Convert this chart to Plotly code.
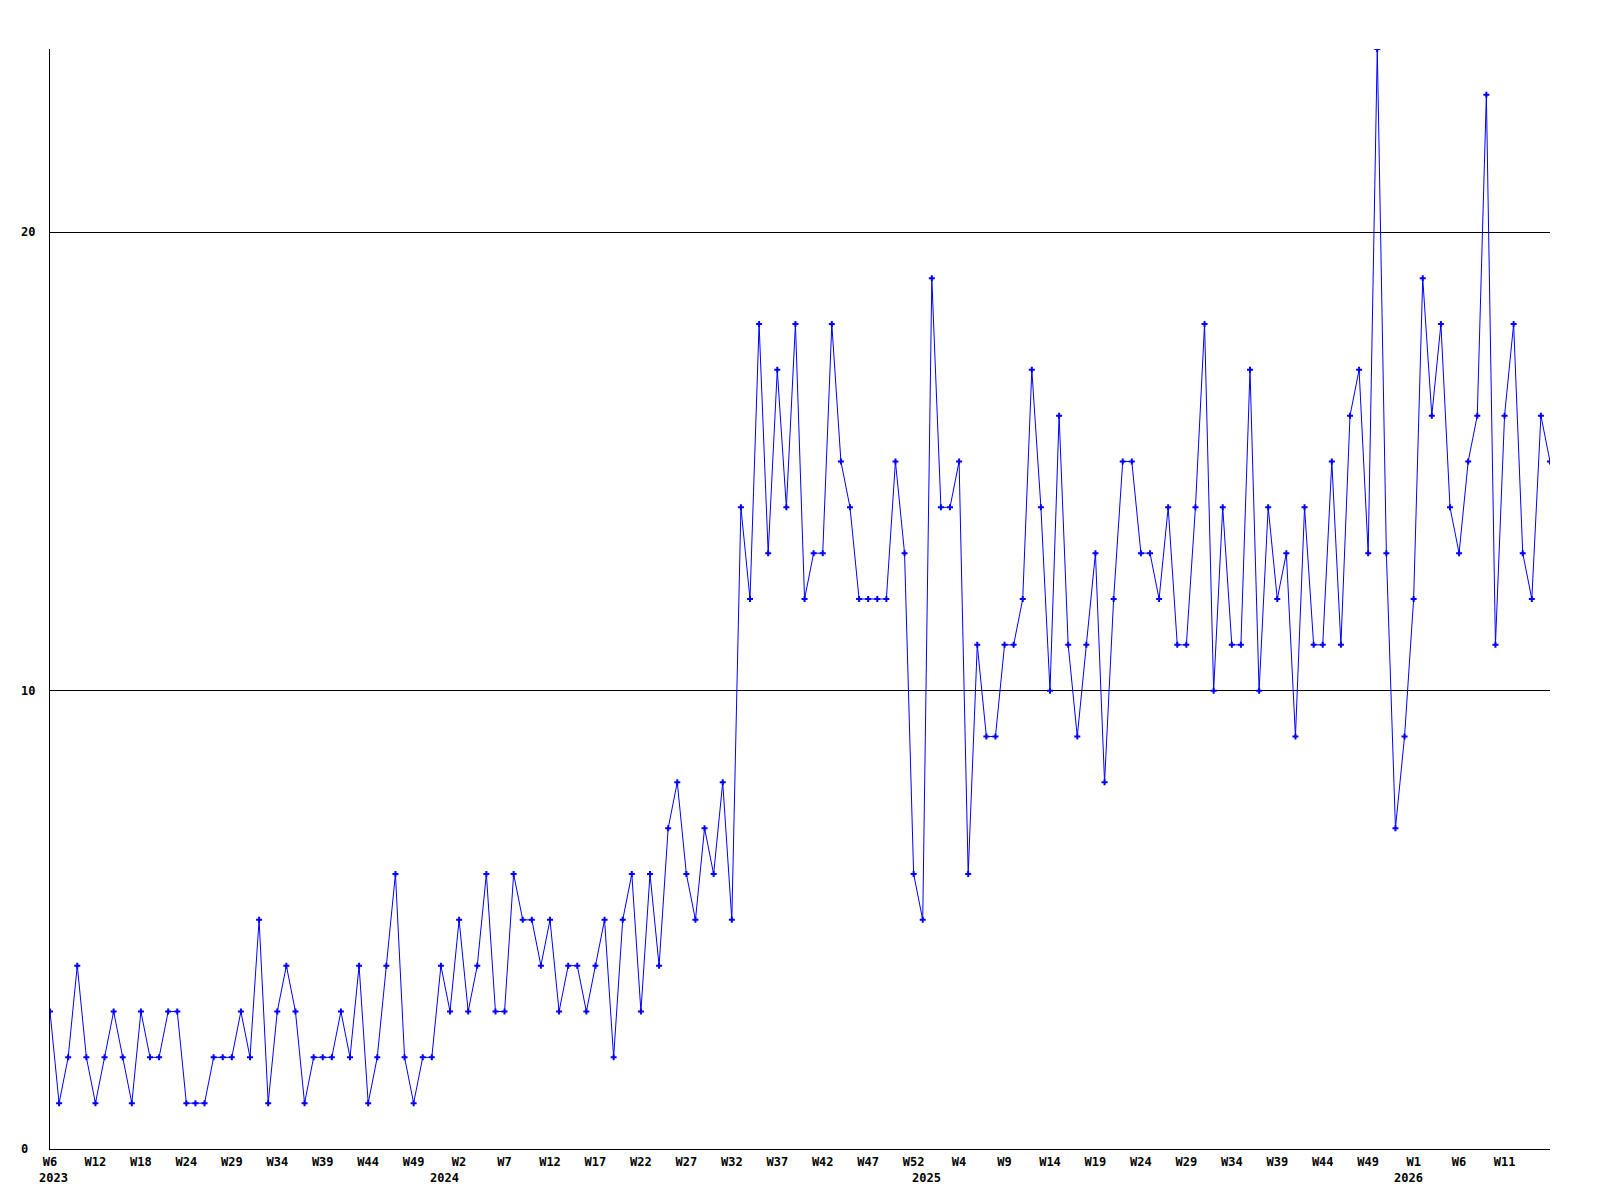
import plotly.graph_objects as go

# Weekly counts, 2023 W6 .. 2026
values = [
    3, 1, 2, 4, 2, 1, 2, 3, 2, 1,
    3, 2, 2, 3, 3, 1, 1, 1, 2, 2,
    2, 3, 2, 5, 1, 3, 4, 3, 1, 2,
    2, 2, 3, 2, 4, 1, 2, 4, 6, 2,
    1, 2, 2, 4, 3, 5, 3, 4, 6, 3,
    3, 6, 5, 5, 4, 5, 3, 4, 4, 3,
    4, 5, 2, 5, 6, 3, 6, 4, 7, 8,
    6, 5, 7, 6, 8, 5, 14, 12, 18, 13,
    17, 14, 18, 12, 13, 13, 18, 15, 14, 12,
    12, 12, 12, 15, 13, 6, 5, 19, 14, 14,
    15, 6, 11, 9, 9, 11, 11, 12, 17, 14,
    10, 16, 11, 9, 11, 13, 8, 12, 15, 15,
    13, 13, 12, 14, 11, 11, 14, 18, 10, 14,
    11, 11, 17, 10, 14, 12, 13, 9, 14, 11,
    11, 15, 11, 16, 17, 13, 24, 13, 7, 9,
    12, 19, 16, 18, 14, 13, 15, 16, 23, 11,
    16, 18, 13, 12, 16, 15,
]

week_labels = ["W6", "W12", "W18", "W24", "W29", "W34", "W39", "W44", "W49",
               "W2", "W7", "W12", "W17", "W22", "W27", "W32", "W37", "W42",
               "W47", "W52", "W4", "W9", "W14", "W19", "W24", "W29", "W34",
               "W39", "W44", "W49", "W1", "W6", "W11"]
label_step = 5

year_labels = ["2023", "2024", "2025", "2026"]
year_index = [0, 43, 96, 149]

y_tick_values = [0, 10, 20]

x = list(range(len(values)))
tickvals = [i * label_step for i in range(len(week_labels))]

font_family = "DejaVu Sans Mono"

fig = go.Figure()
fig.add_trace(go.Scatter(
    x=x, y=values, mode="lines+markers",
    line=dict(color="#0000ff", width=1),
    marker=dict(symbol="cross", size=5, color="#0000ff", line=dict(width=0)),
    showlegend=False, hoverinfo="x+y",
))

annotations = []
for lab, idx in zip(year_labels, year_index):
    annotations.append(dict(
        x=idx, y=0, xref="x", yref="paper", text=lab, showarrow=False,
        xanchor="left", yanchor="top", xshift=-13, yshift=-20,
        font=dict(family=font_family, size=12, color="black", weight="bold"),
    ))
for v in y_tick_values:
    annotations.append(dict(
        x=-31 / 1500, y=v, xref="paper", yref="y", text=str(v), showarrow=False,
        xanchor="left", yanchor="middle",
        font=dict(family=font_family, size=12, color="black", weight="bold"),
    ))

fig.update_layout(
    width=1600, height=1200,
    margin=dict(l=42, r=58, t=41, b=59),
    paper_bgcolor="white", plot_bgcolor="white",
    annotations=annotations,
    xaxis=dict(
        range=[0, len(values) - 1], showline=True, linecolor="black", linewidth=1,
        showgrid=False, zeroline=False, ticks="",
        tickvals=tickvals, ticktext=week_labels, tickangle=0,
        ticklabelstandoff=2,
        tickfont=dict(family=font_family, size=12, color="black", weight="bold"),
    ),
    yaxis=dict(
        range=[0, 24], showline=True, linecolor="black", linewidth=1,
        showgrid=True, gridcolor="black", gridwidth=1, zeroline=False,
        tickvals=y_tick_values, showticklabels=False, ticks="",
    ),
)

fig.write_html("out.html")
